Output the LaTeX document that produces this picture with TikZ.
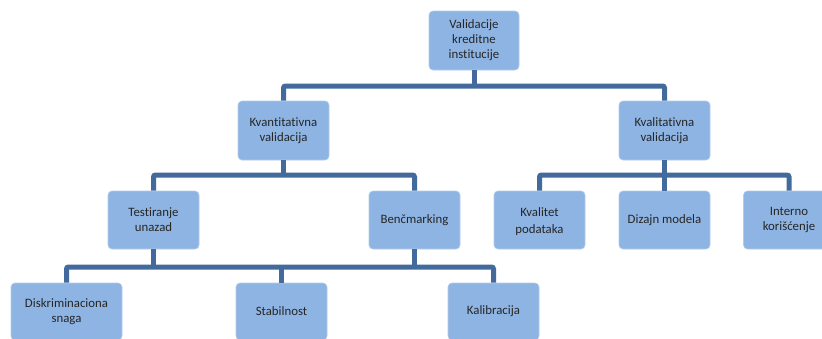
\documentclass[tikz,border=0pt]{standalone}
\usepackage{fontspec}
\setmainfont{Carlito}[Ligatures=NoCommon]
\definecolor{boxfill}{RGB}{142,180,227}
\definecolor{linecol}{RGB}{66,106,156}
\begin{document}
\begin{tikzpicture}[x=1pt,y=-1pt,
  box/.style={fill=boxfill, draw=boxfill!70!white, line width=0.6pt, rounded corners=4pt, minimum width=91pt, minimum height=59pt, align=center, inner sep=2pt, font=\fontsize{12.8}{15}\selectfont, text=black!85},
  conn/.style={draw=linecol, line width=5pt, rounded corners=2pt}]
\useasboundingbox (0,0) rectangle (822,338);
\node[box, minimum width=90pt] (top) at (474,40.5) {Validacije\\kreditne\\institucije};
\node[box] (kvan) at (283.5,130.5) {Kvantitativna\\validacija};
\node[box] (kval) at (664.5,130.5) {Kvalitativna\\validacija};
\node[box, minimum height=58pt] (test) at (153.5,220) {Testiranje\\unazad};
\node[box, minimum height=58pt] (benc) at (414.5,220) {Benčmarking};
\node[box, minimum height=58pt] (kvalitet) at (539.5,220) {};
\node at ([yshift=-2pt]kvalitet.center) [align=center, inner sep=0pt, font=\fontsize{12.8}{17}\selectfont, text=black!85] (kvalitettext) {Kvalitet\\podataka};
\node[box, minimum height=58pt] (dizajn) at (664.5,220) {Dizajn modela};
\node[box, minimum height=58pt] (interno) at (789,220) {Interno\\korišćenje};
\node[box, minimum width=111pt, minimum height=57pt] (disk) at (66.5,311.5) {Diskriminaciona\\snaga};
\node[box, minimum height=57pt] (stab) at (281.5,311.5) {Stabilnost};
\node[box, minimum height=57pt] (kalib) at (493.5,311.5) {Kalibracija};
\coordinate (b1) at (0,86);
\coordinate (b2) at (0,175);
\coordinate (b3) at (0,267);
% level 1
\draw[conn] (top.south) -- (top.south |- b1);
\draw[conn] (kvan.north) -- (kvan.north |- b1) -- (kval.north |- b1) -- (kval.north);
% level 2 left
\draw[conn] (kvan.south) -- (kvan.south |- b2);
\draw[conn] (test.north) -- (test.north |- b2) -- (benc.north |- b2) -- (benc.north);
% level 2 right
\draw[conn] (kval.south) -- (kval.south |- b2);
\draw[conn] (kvalitet.north) -- (kvalitet.north |- b2) -- (interno.north |- b2) -- (interno.north);
\draw[conn] (dizajn.north) -- (dizajn.north |- b2);
% level 3
\draw[conn] (test.south) -- (test.south |- b3);
\draw[conn] (benc.south) -- (benc.south |- b3);
\draw[conn] (disk.north) -- (disk.north |- b3) -- (kalib.north |- b3) -- (kalib.north);
\draw[conn] (stab.north) -- (stab.north |- b3);
\end{tikzpicture}
\end{document}
